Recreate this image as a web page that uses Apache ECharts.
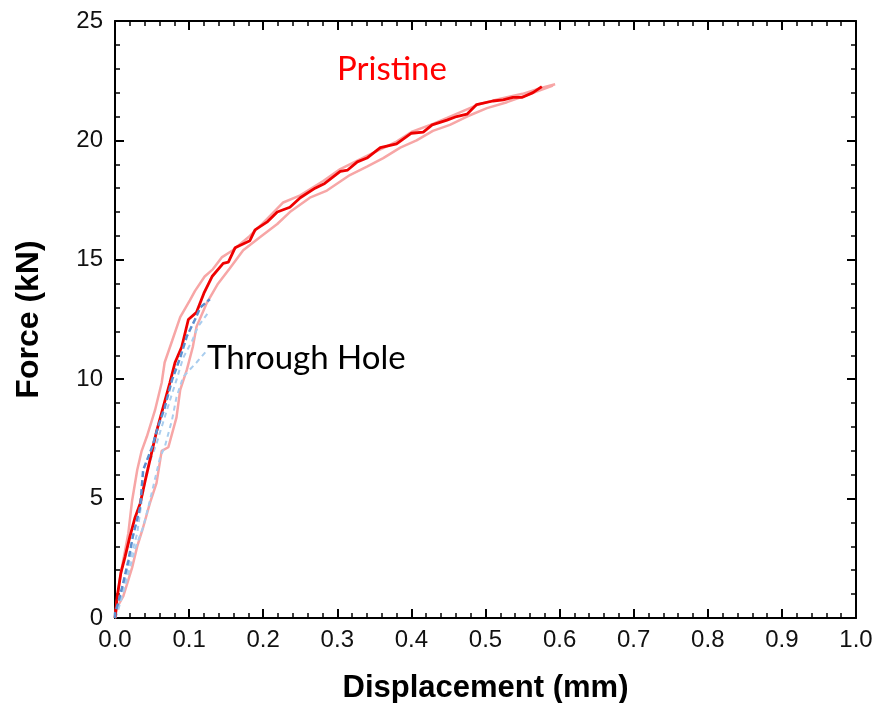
<!DOCTYPE html>
<html>
<head>
<meta charset="utf-8">
<script src="https://cdn.jsdelivr.net/npm/echarts@6/dist/echarts.min.js"></script>
<style>
  html, body { margin: 0; padding: 0; background: #fff; }
  #main { width: 877px; height: 703px; }
</style>
</head>
<body>
<div id="main"></div>
<script>
// displacement (mm), force (kN)
var pristineMean = [[0,0],[0.003,0.9],[0.008,1.9],[0.0135,2.55],[0.02,3.4],[0.027,4.2],[0.034,4.8],[0.04,5.65],[0.05,7.0],[0.056,7.8],[0.063,8.6],[0.074,9.85],[0.081,10.7],[0.09,11.35],[0.099,12.5],[0.11,12.8],[0.12,13.6],[0.131,14.3],[0.146,14.85],[0.153,14.9],[0.162,15.5],[0.182,15.8],[0.189,16.25],[0.206,16.6],[0.219,17.0],[0.236,17.2],[0.25,17.6],[0.27,18.0],[0.283,18.2],[0.304,18.7],[0.314,18.76],[0.327,19.1],[0.34,19.26],[0.358,19.7],[0.38,19.85],[0.40,20.3],[0.416,20.35],[0.428,20.65],[0.448,20.85],[0.461,21.0],[0.475,21.1],[0.488,21.5],[0.51,21.65],[0.524,21.7],[0.537,21.8],[0.549,21.8],[0.564,22.0],[0.576,22.25]];
var pristineUpper = [[0,0],[0.003,0.8],[0.007,1.7],[0.011,2.4],[0.018,3.55],[0.023,4.9],[0.03,6.2],[0.036,7.0],[0.043,7.6],[0.054,8.7],[0.063,9.85],[0.067,10.7],[0.077,11.6],[0.088,12.6],[0.101,13.3],[0.108,13.7],[0.121,14.3],[0.132,14.6],[0.144,15.1],[0.159,15.4],[0.182,16.0],[0.205,16.7],[0.227,17.4],[0.25,17.7],[0.281,18.3],[0.304,18.8],[0.34,19.35],[0.38,19.95],[0.40,20.35],[0.43,20.7],[0.46,21.1],[0.49,21.5],[0.52,21.75],[0.55,21.95],[0.575,22.2],[0.594,22.35]];
var pristineLower = [[0,0],[0.003,0.46],[0.011,0.9],[0.023,2.1],[0.03,3.0],[0.038,3.8],[0.047,4.8],[0.056,5.65],[0.063,7.0],[0.072,7.15],[0.083,8.4],[0.088,9.55],[0.097,10.4],[0.105,11.35],[0.11,12.2],[0.124,13.2],[0.139,14.0],[0.155,14.65],[0.173,15.4],[0.196,15.95],[0.219,16.5],[0.236,17.0],[0.263,17.6],[0.286,17.9],[0.317,18.55],[0.34,18.9],[0.362,19.26],[0.385,19.7],[0.407,20.0],[0.429,20.4],[0.452,20.65],[0.475,21.0],[0.502,21.35],[0.529,21.6],[0.556,21.9],[0.591,22.3]];
var holeMean = [[0,0],[0,0.2],[0.004,0.6],[0.011,1.46],[0.018,2.4],[0.024,3.4],[0.034,4.65],[0.038,6.2],[0.05,7.15],[0.058,8.0],[0.067,8.8],[0.077,9.97],[0.088,10.9],[0.097,11.8],[0.108,12.5],[0.115,13.0],[0.128,13.35]];
var holeLower = [[0,0],[0.003,0.2],[0.015,1.5],[0.027,2.9],[0.038,3.8],[0.047,4.9],[0.061,6.75],[0.067,7.15],[0.077,8.3],[0.083,9.25],[0.092,10.1],[0.11,10.7],[0.124,11.2]];
var holeUpper = [[0,0],[0.003,0.35],[0.011,1.2],[0.02,2.4],[0.03,3.55],[0.036,4.9],[0.043,6.2],[0.056,7.3],[0.065,8.2],[0.074,9.1],[0.083,9.97],[0.092,10.9],[0.104,11.6],[0.112,12.2],[0.126,12.8]];

var myChart = echarts.init(document.getElementById('main'));

var tickFont = { color: '#111', fontFamily: 'Liberation Sans', fontSize: 24 };

function frameAxis(pos, isX) {
    return {
        type: 'value',
        position: pos,
        min: 0,
        max: isX ? 1 : 25,
        interval: isX ? 0.1 : 5,
        axisLine: { show: true, onZero: false, lineStyle: { color: '#000', width: 2 } },
        axisTick: { show: true, inside: true, length: 9, lineStyle: { color: '#000', width: 2 } },
        minorTick: { show: true, splitNumber: 5, length: 5, lineStyle: { color: '#000', width: 1.5 } },
        splitLine: { show: false },
        axisLabel: { show: false }
    };
}

var xBottom = frameAxis('bottom', true);
xBottom.axisLabel = Object.assign({ show: true, margin: 10, formatter: function (v) { return v.toFixed(1); } }, tickFont);
xBottom.name = 'Displacement (mm)';
xBottom.nameLocation = 'middle';
xBottom.nameGap = 55;
xBottom.nameTextStyle = { fontFamily: 'Liberation Sans', fontWeight: 'bold', fontSize: 31, color: '#000' };

var yLeft = frameAxis('left', false);
yLeft.axisLabel = Object.assign({ show: true, margin: 12 }, tickFont);
yLeft.name = 'Force (kN)';
yLeft.nameLocation = 'middle';
yLeft.nameGap = 70;
yLeft.nameTextStyle = { fontFamily: 'Liberation Sans', fontWeight: 'bold', fontSize: 32, color: '#000' };

function line(data, color, width, type, z) {
    return {
        type: 'line', data: data, symbol: 'none', z: z,
        lineStyle: { color: color, width: width, type: type }
    };
}

var option = {
    animation: false,
    grid: { left: 115, right: 21, top: 21, bottom: 85, containLabel: false, outerBoundsMode: 'none' },
    xAxis: [xBottom, frameAxis('top', true)],
    yAxis: [yLeft, frameAxis('right', false)],
    graphic: [
        { type: 'text', left: 337, top: 53, style: { text: 'Pristine', fill: '#ff0000', font: '33px Lato' } },
        { type: 'text', left: 207, top: 342, style: { text: 'Through Hole', fill: '#000', font: '33px Lato' } }
    ],
    series: [
        line(pristineUpper, '#f7a6a6', 2.5, 'solid', 2),
        line(pristineLower, '#f7a6a6', 2.5, 'solid', 2),
        line(holeLower, '#a9cdee', 2, [5, 4], 3),
        line(holeUpper, '#a9cdee', 2, [5, 4], 3),
        line(pristineMean, '#ee0000', 2.8, 'solid', 4),
        line(holeMean, '#5b8fcf', 2.5, [6, 3], 5)
    ]
};

option && myChart.setOption(option);
</script>
</body>
</html>
